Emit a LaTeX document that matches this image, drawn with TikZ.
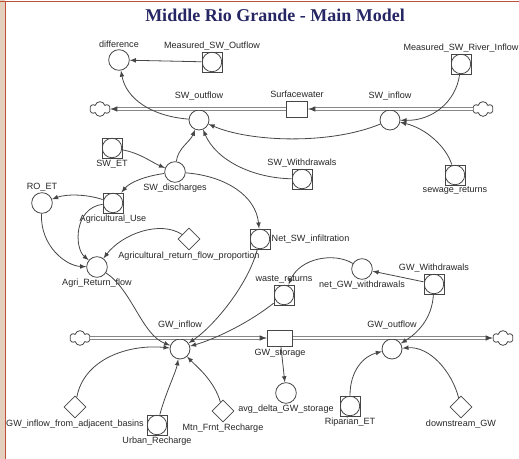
\documentclass[tikz,border=0pt]{standalone}
\usepackage{fontspec}
\setmainfont{Liberation Serif}
\setsansfont{Liberation Sans}
\usetikzlibrary{arrows,calc,positioning}
\usetikzlibrary{shapes.geometric,shapes.symbols}
\definecolor{framered}{RGB}{190,80,60}
\definecolor{framebeige}{RGB}{228,208,188}
\definecolor{titleblue}{RGB}{38,38,100}
\definecolor{inkgray}{RGB}{70,70,70}
\tikzset{
        aux/.style = {draw=inkgray, circle, minimum size=15.5pt,
            inner sep=0pt, line width=0.6pt, fill=white},
        gconv/.style = {draw=inkgray, rectangle, minimum size=15pt,
            inner sep=0pt, line width=0.6pt, fill=white,
            path picture={\draw[inkgray,line width=0.6pt] (path picture bounding box.center) circle (7.3pt);}},
        const/.style = {draw=inkgray, diamond, minimum size=16.5pt,
            inner sep=0pt, line width=0.6pt, fill=white},
        stock/.style = {draw=inkgray, rectangle, minimum width=16pt,
            minimum height=12pt, line width=0.6pt, fill=white},
        valve/.style = {aux, minimum size=15pt},
        source/.style = {draw=inkgray, cloud, cloud puffs=6, aspect=1.4,
            minimum width=15pt, minimum height=11pt, inner sep=0pt,
            line width=0.6pt, fill=white},
        pipe/.style = {draw=inkgray, line width=0.5pt, double=white,
            double distance=1.4pt, -latex},
        conn/.style = {draw=inkgray, line width=0.6pt, -latex},
        lbl/.style = {font=\sffamily\fontsize{6.8}{7.5}\selectfont,
            inner sep=0.8pt, text=black!85},
        every label/.style = {lbl},
        title/.style = {font=\rmfamily\bfseries\fontsize{13.5}{15}\selectfont,
            text=titleblue},
    }

\begin{document}
\begin{tikzpicture}[x=0.75pt,y=0.75pt,yscale=-1,xscale=1]
\useasboundingbox (0,0) rectangle (519,459);

% Frame
\fill[framebeige] (0,0) rectangle (5,459);
\draw[framered, line width=1.1pt] (5.5,1.5) -- (5.5,459);
\draw[framered, line width=1.1pt] (0,1.5) -- (519,1.5);

% Title
\node[title] (title) at (275,15) {Middle Rio Grande - Main Model};

% Stocks
\node[stock, label={[label distance=1pt]above:Surfacewater}] (surfacewater) at (297,109) {};
\node[stock, minimum width=19pt, label={[label distance=1pt]below:GW\_storage}] (gwstorage) at (280,338) {};

% Clouds
\node[source] (cloudTL) at (100,109) {};
\node[source] (cloudTR) at (483,109) {};
\node[source] (cloudBL) at (80,338) {};
\node[source] (cloudBR) at (503,338) {};

% Flows
\node[valve, label={[label distance=6pt]above:SW\_outflow}] (swoutflow) at (199,120) {};
\node[valve, label={[label distance=6pt]above:SW\_inflow}] (swinflow) at (390,120) {};
\node[valve, label={[label distance=6pt]above:GW\_inflow}] (gwinflow) at (180,349) {};
\node[valve, label={[label distance=6pt]above:GW\_outflow}] (gwoutflow) at (392,349) {};

%Straight Lines
\draw[pipe] (surfacewater.west) -- (cloudTL.east);
\draw[pipe] (cloudTR.west) -- (surfacewater.east);
\draw[pipe] (cloudBL.east) -- (gwstorage.west);
\draw[pipe] (gwstorage.east) -- (cloudBR.west);

% Converters
\node[aux, label=above:difference] (difference) at (119,60) {};
\node[gconv, label=above:Measured\_SW\_Outflow] (measout) at (212,62) {};
\node[gconv, label=above:Measured\_SW\_River\_Inflow] (measin) at (461,64) {};
\node[gconv, label=below:SW\_ET] (swet) at (112,148) {};
\node[aux, label=below:SW\_discharges] (swdis) at (175,172) {};
\node[gconv, label=above:SW\_Withdrawals] (swwd) at (302,179) {};
\node[gconv, label=below:sewage\_returns] (sewage) at (455,175) {};
\node[aux, label=above:RO\_ET] (roet) at (42,203) {};
\node[gconv, label=below:Agricultural\_Use] (agruse) at (113,203) {};
\node[const, label=below:Agricultural\_return\_flow\_proportion] (arfprop) at (189,239) {};
\node[aux, label=below:Agri\_Return\_flow] (agrret) at (97,267) {};
\node[gconv, label=right:Net\_SW\_infiltration] (netinf) at (260,239) {};
\node[aux, label=below:net\_GW\_withdrawals] (netgw) at (362,269) {};
\node[gconv, label=above:GW\_Withdrawals] (gwwd) at (434,284) {};
\node[gconv, label=above:waste\_returns] (waste) at (284,295) {};
\node[aux, label=below:avg\_delta\_GW\_storage] (avgdelta) at (286,393) {};
\node[const, label=below:GW\_inflow\_from\_adjacent\_basins] (gwadj) at (75,407) {};
\node[gconv, label=below:Urban\_Recharge] (urban) at (157,425) {};
\node[const, label=below:Mtn\_Frnt\_Recharge] (mtn) at (223,411) {};
\node[gconv, label=below:Riparian\_ET] (riparian) at (350,406) {};
\node[const, label=below:downstream\_GW] (downstream) at (461,407) {};

%Straight Lines
\draw[conn] (measout) -- (difference);
\draw[conn] (gwwd) -- (netgw);
\draw[conn] (gwstorage) -- (avgdelta);
%Curve Lines
\draw[conn] (swoutflow) .. controls (150,116) and (126,98) .. (difference);
\draw[conn] (measin) .. controls (456,102) and (432,121) .. (swinflow);
\draw[conn] (swinflow) .. controls (330,145) and (250,142) .. (swoutflow);
\draw[conn] (sewage) .. controls (446,146) and (425,128) .. (swinflow);
\draw[conn] (swwd) .. controls (252,178) and (216,160) .. (swoutflow);
\draw[conn] (swdis) .. controls (178,148) and (190,142) .. (swoutflow);
\draw[conn] (swet) .. controls (140,153) and (153,163) .. (swdis);
\draw[conn] (swdis) .. controls (146,176) and (130,182) .. (agruse);
\draw[conn] (agruse) .. controls (86,194) and (66,194) .. (roet);
\draw[conn] (roet) .. controls (40,246) and (66,266) .. (agrret);
\draw[conn] (agruse) .. controls (74,208) and (74,248) .. (agrret);
\draw[conn] (arfprop) .. controls (160,220) and (122,234) .. (agrret);
\draw[conn] (agrret) .. controls (132,290) and (142,335) .. (gwinflow);
\draw[conn] (swdis) .. controls (226,176) and (256,196) .. (netinf);
\draw[conn] (netinf) .. controls (248,285) and (214,326) .. (gwinflow);
\draw[conn] (waste) .. controls (246,325) and (212,340) .. (gwinflow);
\draw[conn] (netgw) .. controls (334,252) and (300,258) .. (waste);
\draw[conn] (gwwd) .. controls (432,320) and (416,334) .. (gwoutflow);
\draw[conn] (riparian) .. controls (350,370) and (364,356) .. (gwoutflow);
\draw[conn] (downstream) .. controls (452,372) and (430,346) .. (gwoutflow);
\draw[conn] (gwadj) .. controls (84,358) and (130,344) .. (gwinflow);
\draw[conn] (urban) .. controls (166,392) and (176,372) .. (gwinflow);
\draw[conn] (mtn) .. controls (214,380) and (196,366) .. (gwinflow);

\end{tikzpicture}
\end{document}
